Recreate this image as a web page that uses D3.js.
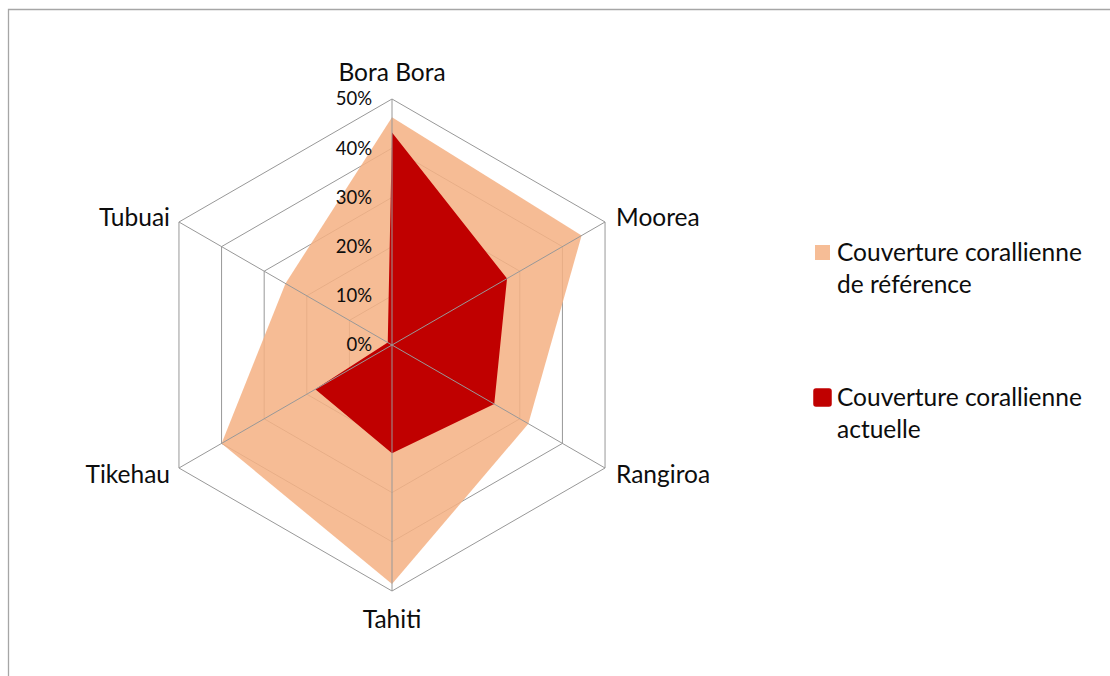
<!DOCTYPE html>
<html>
<head>
<meta charset="utf-8">
<script src="https://cdn.jsdelivr.net/npm/d3@7"></script>
<style>
  body { margin: 0; background: #fff; }
  text { font-family: Lato, "Open Sans", sans-serif; fill: #0d0d0d; }
</style>
</head>
<body>
<script>
// island names, clockwise from the top
var islands = ["Bora Bora", "Moorea", "Rangiroa", "Tahiti", "Tikehau", "Tubuai"];
// coral cover (%)
var referenceCover = [46.3, 44.5, 32, 48.6, 40, 25];
var currentCover = [43.2, 27, 24, 22, 18, 1];
var ticks = [0, 10, 20, 30, 40, 50];
var seriesNames = [["Couverture corallienne", "de référence"], ["Couverture corallienne", "actuelle"]];

var width = 1110, height = 676;
var cx = 392, cy = 345;

var svg = d3.select("body").append("svg")
    .attr("width", width)
    .attr("height", height);

// chart frame (only top and left edges show)
svg.append("path")
    .attr("d", "M8.5,676 L8.5,9.5 L1110,9.5")
    .attr("fill", "none")
    .attr("stroke", "#a6a6a6")
    .attr("stroke-width", 1.3);

var r = d3.scaleLinear().domain([0, 50]).range([0, 246]);
var angle = d3.scalePoint().domain(islands).range([0, 2 * Math.PI * 5 / 6]);

var g = svg.append("g").attr("transform", "translate(" + cx + "," + cy + ")");

function pt(name, v) {
    var a = angle(name);
    return [Math.sin(a) * r(v), -Math.cos(a) * r(v)];
}

var ring = d3.lineRadial()
    .angle(function(d) { return angle(d.name); })
    .radius(function(d) { return r(d.v); })
    .curve(d3.curveLinearClosed);

// hexagon grid rings
g.selectAll(".ring")
    .data(ticks.slice(1))
    .enter()
    .append("path")
    .attr("class", "ring")
    .attr("d", function(t) { return ring(islands.map(function(n) { return {name: n, v: t}; })); })
    .attr("fill", "none")
    .attr("stroke", "#989898")
    .attr("stroke-width", 1);

// reference series
g.append("path")
    .datum(islands.map(function(n, i) { return {name: n, v: referenceCover[i]}; }))
    .attr("d", ring)
    .attr("fill", "#F4B183")
    .attr("fill-opacity", 0.86);

// current series
g.append("path")
    .datum(islands.map(function(n, i) { return {name: n, v: currentCover[i]}; }))
    .attr("d", ring)
    .attr("fill", "#C00000");

// spokes on top
g.selectAll(".spoke")
    .data(islands)
    .enter()
    .append("line")
    .attr("class", "spoke")
    .attr("x1", 0).attr("y1", 0)
    .attr("x2", function(d) { return pt(d, 50)[0]; })
    .attr("y2", function(d) { return pt(d, 50)[1]; })
    .attr("stroke", "#989898")
    .attr("stroke-width", 1);

// value labels along the top spoke
g.selectAll(".tick")
    .data(ticks)
    .enter()
    .append("text")
    .attr("class", "tick")
    .attr("x", -20)
    .attr("y", function(t) { return -r(t); })
    .attr("dy", "0.35em")
    .attr("text-anchor", "end")
    .style("font-size", "18.5px")
    .text(function(t) { return t + "%"; });

// island labels
g.selectAll(".cat")
    .data(islands)
    .enter()
    .append("text")
    .attr("class", "cat")
    .attr("x", function(d) {
        var p = pt(d, 50);
        var s = Math.sin(angle(d));
        return p[0] + (Math.abs(s) < 0.01 ? 0 : (s > 0 ? 11 : -9));
    })
    .attr("y", function(d) {
        var p = pt(d, 50);
        var c = Math.cos(angle(d));
        if (Math.abs(Math.sin(angle(d))) < 0.01) return p[1] + (c > 0 ? -27 : 28);
        return p[1] + (c > 0 ? -5 : 6);
    })
    .attr("dy", "0.35em")
    .attr("text-anchor", function(d) {
        var s = Math.sin(angle(d));
        return Math.abs(s) < 0.01 ? "middle" : (s > 0 ? "start" : "end");
    })
    .style("font-size", "24.5px")
    .text(function(d) { return d; });

// legend
var legend = svg.selectAll(".legend")
    .data(seriesNames)
    .enter()
    .append("g")
    .attr("class", "legend")
    .attr("transform", function(d, i) { return "translate(837," + (i === 0 ? 261 : 406) + ")"; });

legend.append("rect")
    .attr("x", function(d, i) { return i === 0 ? -22 : -23; })
    .attr("y", function(d, i) { return i === 0 ? -16 : -17; })
    .attr("width", function(d, i) { return i === 0 ? 15 : 17; })
    .attr("height", function(d, i) { return i === 0 ? 15 : 17; })
    .attr("rx", function(d, i) { return i === 0 ? 0 : 2; })
    .attr("fill", function(d, i) { return i === 0 ? "#F6BD96" : "#C00000"; })
    .attr("stroke", function(d, i) { return i === 0 ? "none" : "#C00000"; })
    .attr("stroke-width", 1.5);

legend.each(function(d) {
    var t = d3.select(this).append("text").style("font-size", "24.5px");
    t.selectAll("tspan")
        .data(d)
        .enter()
        .append("tspan")
        .attr("x", 0)
        .attr("y", function(s, j) { return j * 32; })
        .text(function(s) { return s; });
});
</script>
</body>
</html>
